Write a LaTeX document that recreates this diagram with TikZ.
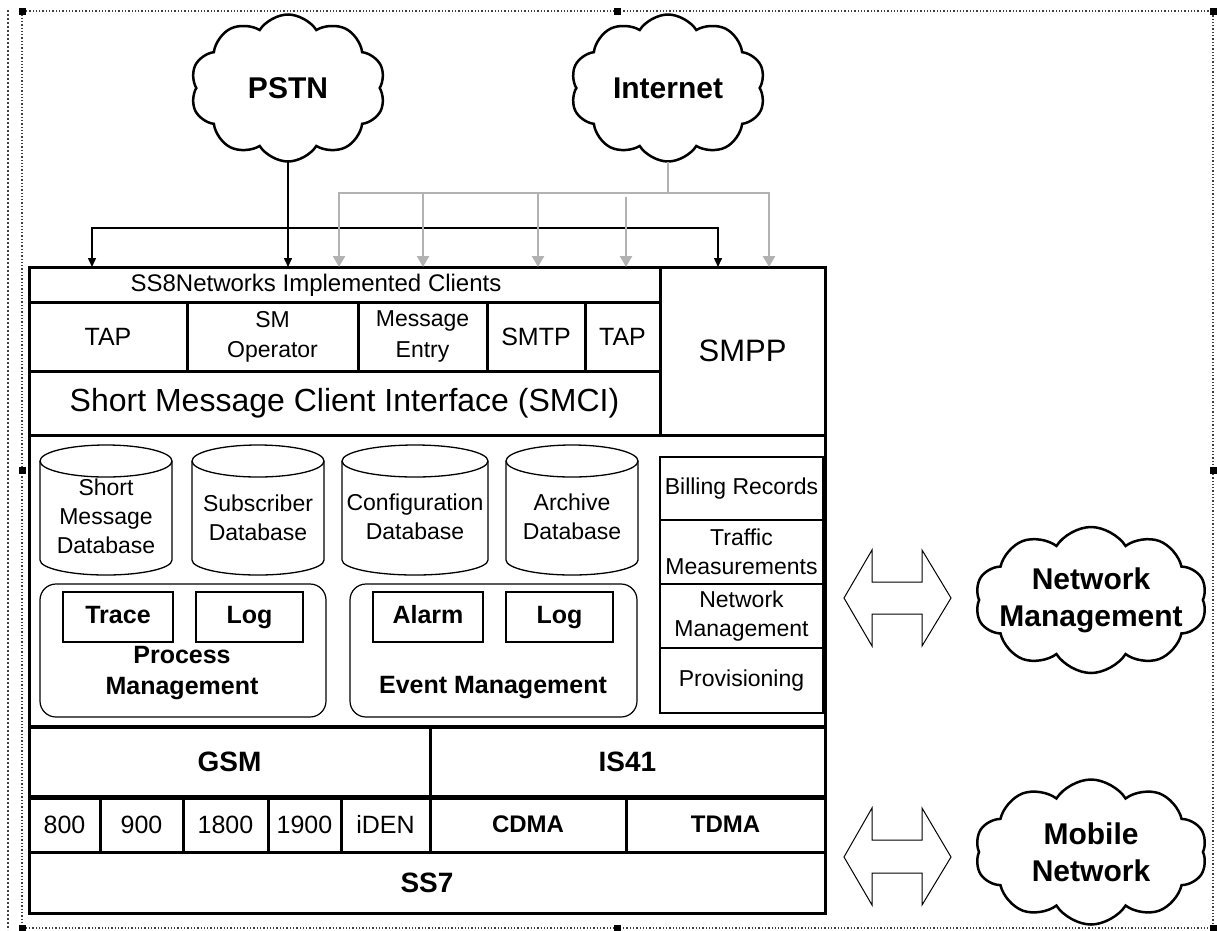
\documentclass[tikz,border=0pt]{standalone}
\usepackage{fontspec}
\setmainfont{Liberation Sans}
\usetikzlibrary{shapes.symbols,arrows.meta}
\definecolor{arrgray}{RGB}{178,178,178}
\newcommand\fsz[2]{\fontsize{#1}{#2}\selectfont}
\newcommand\dbcyl[2]{%
  \draw[dbline] (#1,461) ellipse[x radius=#2pt, y radius=16pt];
  \draw[dbline] (#1-#2,461) -- (#1-#2,560) arc[start angle=180, end angle=360, x radius=#2pt, y radius=15pt] -- (#1+#2,461);}
\begin{document}
\begin{tikzpicture}[x=1pt,y=-1pt,
  cell/.style={draw, line width=3pt, outer sep=0pt, inner sep=0pt, anchor=north west, align=center},
  rcell/.style={draw, line width=1.5pt, outer sep=0pt, inner sep=0pt, anchor=north west, align=center, font=\fsz{23}{29}},
  rbox/.style={draw, line width=1.2pt, rounded corners=16pt, outer sep=0pt, inner sep=0pt, anchor=north west},
  ibox/.style={draw, line width=1.5pt, outer sep=0pt, inner sep=0pt, anchor=north west, font=\bfseries\fsz{25}{30}, text height=18pt, text depth=5pt},
  dbline/.style={line width=1.3pt},
  dbtext/.style={align=center, inner sep=0pt, font=\fsz{23}{29}},
  cloudy/.style={cloud, draw, line width=2.5pt, cloud puffs=10, cloud puff arc=115, cloud ignores aspect, inner sep=0pt, outer sep=0pt},
  cloudtext/.style={align=center, inner sep=0pt, font=\bfseries\fsz{30}{37}},
  blkline/.style={line width=1.5pt, black},
  gryline/.style={line width=2.5pt, arrgray},
  btip/.tip={Triangle[width=8pt,length=9pt]},
  gtip/.tip={Triangle[width=12pt,length=11pt]},
  dblarrow/.style={line width=1pt},
  frame/.style={line width=1.3pt, dotted, black!75}
]
\useasboundingbox (0,0) rectangle (1217,930);

% canvas frame and handles
\draw[frame] (22,11) rectangle (1213,928);
\draw[line width=1.3pt, dash pattern=on 2pt off 2pt, black!75] (8,10) -- (8,930);
\foreach \p in {(22,11),(617,11),(1213,11),(22,470),(1213,470),(22,928),(617,928),(1213,928)}
  \fill \p +(-3.5,-3.5) rectangle +(3.5,3.5);

% clouds
\node[cloudy, minimum width=195pt, minimum height=147pt] (pstn) at (288,88) {};
\node[cloudtext] (pstnt) at (pstn.center) {PSTN};
\node[cloudy, minimum width=195pt, minimum height=147pt] (inet) at (668,88) {};
\node[cloudtext] (inett) at (inet.center) {Internet};
\node[cloudy, minimum width=232pt, minimum height=146pt] (nmc) at (1091,600) {};
\node[cloudtext] (nmct) at (nmc.center) {Network\\Management};
\node[cloudy, minimum width=232pt, minimum height=145pt] (mnc) at (1091,852) {};
\node[cloudtext] (mnct) at (mnc.center) {Mobile\\Network};

% main box
\node[cell, minimum width=796pt, minimum height=646pt] (main) at (29,267) {};

% client rows
\node[cell, minimum width=631pt, minimum height=35pt] (ss8) at (29,267) {};
\node[inner sep=0pt, font=\fsz{24}{28}] (ss8t) at (316,285) {SS8Networks Implemented Clients};
\node[cell, minimum width=158pt, minimum height=69pt, font=\fsz{25}{28}] (tap1) at (29,302) {TAP};
\node[cell, minimum width=171pt, minimum height=69pt, font=\fsz{23}{30}] (smop) at (187,302) {SM\\Operator};
\node[cell, minimum width=129pt, minimum height=69pt, font=\fsz{23}{31}] (msge) at (358,302) {Message\\Entry};
\node[cell, minimum width=98pt, minimum height=69pt, font=\fsz{25}{28}] (smtp) at (487,302) {SMTP};
\node[cell, minimum width=75pt, minimum height=69pt, font=\fsz{25}{28}] (tap2) at (585,302) {TAP};
\node[cell, minimum width=631pt, minimum height=64pt, font=\fsz{32}{36}] (smci) at (29,371) {Short Message Client Interface (SMCI)};
\node[cell, minimum width=165pt, minimum height=168pt, font=\fsz{31}{36}] (smpp) at (660,267) {SMPP};

% middle section
\node[cell, minimum width=796pt, minimum height=292pt] (mid) at (29,435) {};
\dbcyl{106}{66}
\dbcyl{258}{66}
\dbcyl{415}{73}
\dbcyl{572}{66}
\node[dbtext] (tsm) at (106,516) {Short\\Message\\Database};
\node[dbtext] (tsub) at (258,518) {Subscriber\\Database};
\node[dbtext] (tconf) at (415,517) {Configuration\\Database};
\node[dbtext] (tarch) at (572,517) {Archive\\Database};

\node[rbox, minimum width=286pt, minimum height=133pt] (pm) at (40,584) {};
\node[rbox, minimum width=287pt, minimum height=133pt] (em) at (350,584) {};
\node[ibox, minimum width=110pt, minimum height=50pt] (trace) at (63,592) {Trace};
\node[ibox, minimum width=107pt, minimum height=50pt] (log1) at (196,592) {Log};
\node[ibox, minimum width=110pt, minimum height=50pt] (alarm) at (373,592) {Alarm};
\node[ibox, minimum width=107pt, minimum height=50pt] (log2) at (506,592) {Log};
\node[align=center, inner sep=0pt, font=\bfseries\fsz{25}{31}] (pml) at (182,673) {Process\\Management};
\node[inner sep=0pt, font=\bfseries\fsz{25}{31}] (eml) at (493,688) {Event Management};

\node[rcell, minimum width=163pt, minimum height=63pt] (bill) at (660,457) {Billing Records};
\node[rcell, minimum width=163pt, minimum height=64pt] (traf) at (660,520) {Traffic\\Measurements};
\node[rcell, minimum width=163pt, minimum height=64pt] (nmgt) at (660,584) {Network\\Management};
\node[rcell, minimum width=163pt, minimum height=65pt] (prov) at (660,648) {Provisioning};

% protocol rows
\node[cell, minimum width=401pt, minimum height=70pt, font=\bfseries\fsz{28}{32}] (gsm) at (29,727) {GSM};
\node[cell, minimum width=395pt, minimum height=70pt, font=\bfseries\fsz{28}{32}] (is41) at (430,727) {IS41};
\node[cell, minimum width=71pt, minimum height=55pt, font=\fsz{25}{28}] (b800) at (29,797) {800};
\node[cell, minimum width=83pt, minimum height=55pt, font=\fsz{25}{28}] (b900) at (100,797) {900};
\node[cell, minimum width=85pt, minimum height=55pt, font=\fsz{25}{28}] (b1800) at (183,797) {1800};
\node[cell, minimum width=73pt, minimum height=55pt, font=\fsz{25}{28}] (b1900) at (268,797) {1900};
\node[cell, minimum width=89pt, minimum height=55pt, font=\fsz{25}{28}] (iden) at (341,797) {iDEN};
\node[cell, minimum width=196pt, minimum height=55pt, font=\bfseries\fsz{24}{28}] (cdma) at (430,797) {CDMA};
\node[cell, minimum width=199pt, minimum height=55pt, font=\bfseries\fsz{24}{28}] (tdma) at (626,797) {TDMA};
\node[cell, minimum width=796pt, minimum height=61pt, font=\bfseries\fsz{28}{32}] (ss7) at (29,852) {SS7};
\draw[line width=4.5pt] (main.west |- gsm.north) -- (main.east |- gsm.north);
\draw[line width=5pt] (main.west |- gsm.south) -- (main.east |- gsm.south);

% PSTN connectors
\coordinate (bL) at (92,228);
\coordinate (bR) at (718,228);
\draw[blkline, -btip] (pstn) -- (pstn |- main.north);
\draw[blkline, btip-btip] (bL |- main.north) -- (bL) -- (bR) -- (bR |- main.north);

% Internet connectors
\coordinate (gJ) at (668,193);
\coordinate (g1) at (339,193);
\coordinate (g2) at (423,193);
\coordinate (g3) at (538,193);
\coordinate (g4) at (626,197);
\coordinate (g5) at (769,193);
\draw[gryline] (inet) -- (gJ);
\draw[gryline, gtip-gtip] (g1 |- main.north) -- (g1) -- (g5) -- (g5 |- main.north);
\draw[gryline, -gtip] (g2) -- (g2 |- main.north);
\draw[gryline, -gtip] (g3) -- (g3 |- main.north);
\draw[gryline, -gtip] (g4) -- (g4 |- main.north);

% hollow double arrows
\draw[dblarrow] (844,598) -- (872,550) -- (872,582) -- (922,582) -- (922,550) -- (951,598)
  -- (922,646) -- (922,614) -- (872,614) -- (872,646) -- cycle;
\draw[dblarrow] (844,857) -- (872,808) -- (872,840) -- (922,840) -- (922,808) -- (951,857)
  -- (922,905) -- (922,873) -- (872,873) -- (872,905) -- cycle;
\end{tikzpicture}
\end{document}
